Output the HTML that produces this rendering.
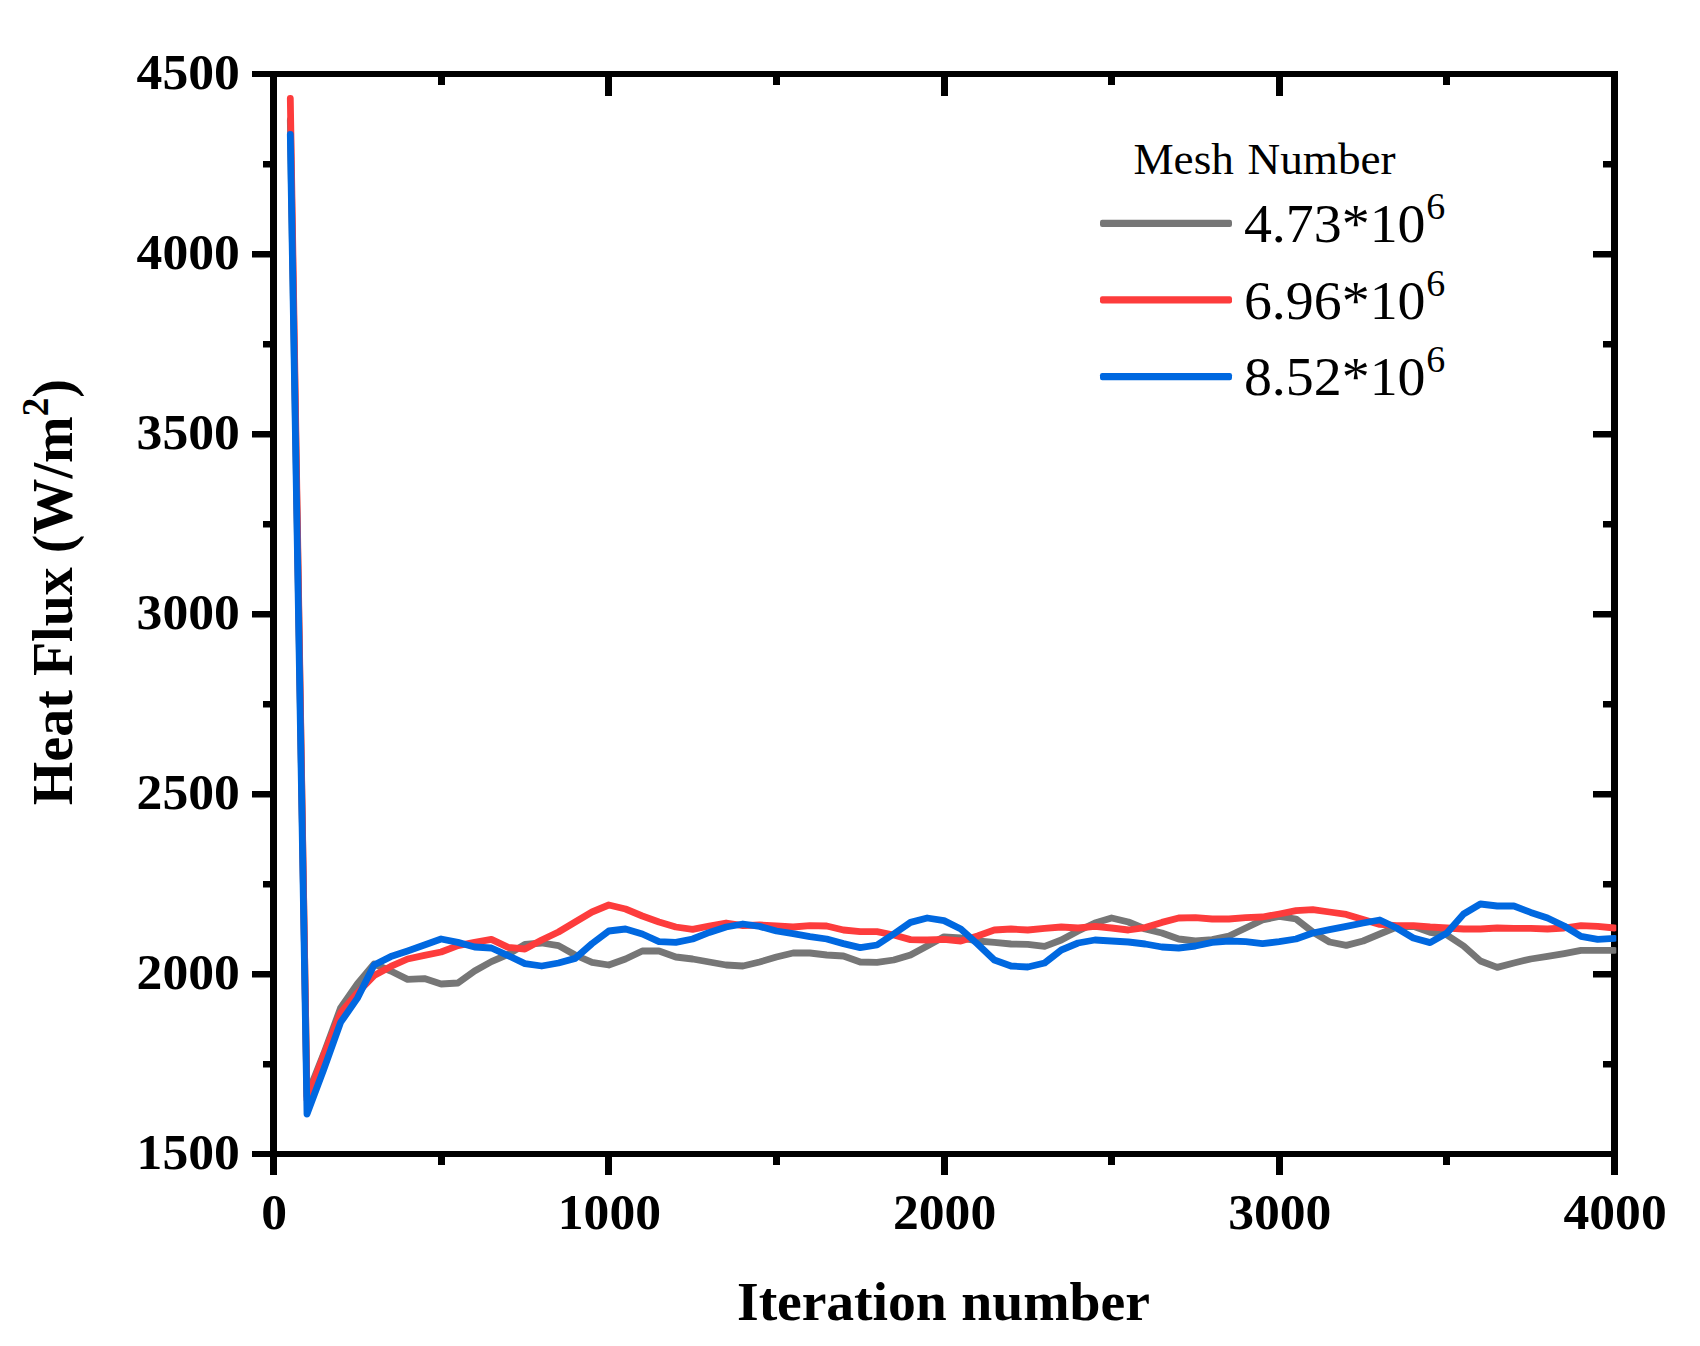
<!DOCTYPE html>
<html><head><meta charset="utf-8"><title>Heat Flux vs Iteration number</title>
<style>
html,body{margin:0;padding:0;background:#fff;}
body{width:1700px;height:1346px;overflow:hidden;}
svg{display:block;}
text{font-family:"Liberation Serif",serif;fill:#000;}
.b{font-weight:bold;}
</style></head><body>
<svg width="1700" height="1346" viewBox="0 0 1700 1346">
<rect width="1700" height="1346" fill="#fff"/>

<g fill="#000" shape-rendering="crispEdges">
<rect x="270" y="71" width="7" height="1086"/>
<rect x="1611" y="71" width="7" height="1086"/>
<rect x="270" y="71" width="1348" height="6"/>
<rect x="270" y="1151" width="1348" height="6"/>
<rect x="270" y="1157" width="7" height="18"/>
<rect x="438" y="1157" width="7" height="8"/>
<rect x="438" y="77" width="7" height="8"/>
<rect x="605" y="1157" width="7" height="18"/>
<rect x="605" y="77" width="7" height="18.5"/>
<rect x="773" y="1157" width="7" height="8"/>
<rect x="773" y="77" width="7" height="8"/>
<rect x="941" y="1157" width="7" height="18"/>
<rect x="941" y="77" width="7" height="18.5"/>
<rect x="1108" y="1157" width="7" height="8"/>
<rect x="1108" y="77" width="7" height="8"/>
<rect x="1276" y="1157" width="7" height="18"/>
<rect x="1276" y="77" width="7" height="18.5"/>
<rect x="1443" y="1157" width="7" height="8"/>
<rect x="1443" y="77" width="7" height="8"/>
<rect x="1611" y="1157" width="7" height="18"/>
<rect x="252" y="1151" width="18" height="6" shape-rendering="auto"/>
<rect x="263" y="1061" width="7" height="6.5" shape-rendering="auto"/>
<rect x="1603" y="1061" width="8" height="6.5" shape-rendering="auto"/>
<rect x="252" y="971" width="18" height="6.5" shape-rendering="auto"/>
<rect x="1593" y="971" width="18" height="6.5" shape-rendering="auto"/>
<rect x="263" y="881" width="7" height="6.5" shape-rendering="auto"/>
<rect x="1603" y="881" width="8" height="6.5" shape-rendering="auto"/>
<rect x="252" y="791" width="18" height="6.5" shape-rendering="auto"/>
<rect x="1593" y="791" width="18" height="6.5" shape-rendering="auto"/>
<rect x="263" y="701" width="7" height="6.5" shape-rendering="auto"/>
<rect x="1603" y="701" width="8" height="6.5" shape-rendering="auto"/>
<rect x="252" y="611" width="18" height="6.5" shape-rendering="auto"/>
<rect x="1593" y="611" width="18" height="6.5" shape-rendering="auto"/>
<rect x="263" y="521" width="7" height="6.5" shape-rendering="auto"/>
<rect x="1603" y="521" width="8" height="6.5" shape-rendering="auto"/>
<rect x="252" y="431" width="18" height="6.5" shape-rendering="auto"/>
<rect x="1593" y="431" width="18" height="6.5" shape-rendering="auto"/>
<rect x="263" y="341" width="7" height="6.5" shape-rendering="auto"/>
<rect x="1603" y="341" width="8" height="6.5" shape-rendering="auto"/>
<rect x="252" y="251" width="18" height="6.5" shape-rendering="auto"/>
<rect x="1593" y="251" width="18" height="6.5" shape-rendering="auto"/>
<rect x="263" y="161" width="7" height="6.5" shape-rendering="auto"/>
<rect x="1603" y="161" width="8" height="6.5" shape-rendering="auto"/>
<rect x="252" y="71" width="18" height="6" shape-rendering="auto"/>
</g>
<defs><clipPath id="plotclip"><rect x="0" y="0" width="1616.3" height="1346"/></clipPath></defs>
<g fill="none" stroke-width="6.8" stroke-linejoin="round" stroke-linecap="round" clip-path="url(#plotclip)">
<polyline stroke="#767676" points="290.3,120.0 307.0,1096.0 323.8,1053.6 340.6,1008.0 357.3,984.0 374.1,964.0 390.8,971.0 407.6,979.4 424.4,978.6 441.1,984.0 457.9,983.0 474.6,971.0 491.4,961.6 508.2,954.4 524.9,944.4 541.7,943.0 558.5,945.6 575.2,955.0 592.0,962.4 608.8,965.0 625.5,959.0 642.3,951.0 659.0,951.0 675.8,957.0 692.6,959.0 709.3,962.0 726.1,965.0 742.9,966.0 759.6,962.0 776.4,957.0 793.1,953.0 809.9,953.0 826.7,955.0 843.4,956.0 860.2,962.0 877.0,962.4 893.7,960.0 910.5,955.0 927.2,946.0 944.0,936.8 960.8,938.0 977.5,941.0 994.3,942.4 1011.0,944.0 1027.8,944.4 1044.6,946.4 1061.3,940.0 1078.1,931.0 1094.9,923.0 1111.6,918.0 1128.4,922.0 1145.2,929.0 1161.9,933.0 1178.7,939.0 1195.4,941.0 1212.2,939.6 1229.0,936.0 1245.7,928.0 1262.5,920.0 1279.2,916.4 1296.0,919.0 1312.8,932.0 1329.5,942.0 1346.3,945.4 1363.1,941.0 1379.8,934.0 1396.6,927.0 1413.3,926.4 1430.1,932.3 1446.9,935.0 1463.6,946.0 1480.4,961.0 1497.2,967.4 1513.9,963.0 1530.7,959.0 1547.5,956.4 1564.2,953.6 1581.0,950.4 1597.7,950.4 1614.5,950.4"/>
<polyline stroke="#fd3c3c" points="290.3,98.4 307.0,1099.5 323.8,1054.9 340.6,1012.7 357.3,993.0 374.1,975.6 390.8,966.4 407.6,959.0 424.4,955.4 441.1,952.0 457.9,945.6 474.6,942.4 491.4,939.4 508.2,947.4 524.9,949.0 541.7,940.0 558.5,932.0 575.2,922.0 592.0,912.0 608.8,905.0 625.5,909.0 642.3,916.0 659.0,922.0 675.8,927.0 692.6,929.4 709.3,926.0 726.1,923.0 742.9,925.6 759.6,925.0 776.4,926.0 793.1,927.0 809.9,925.6 826.7,926.0 843.4,930.0 860.2,931.6 877.0,931.6 893.7,935.0 910.5,939.6 927.2,940.0 944.0,939.4 960.8,941.0 977.5,936.0 994.3,930.0 1011.0,929.0 1027.8,930.0 1044.6,928.4 1061.3,927.0 1078.1,928.0 1094.9,926.4 1111.6,928.0 1128.4,930.0 1145.2,927.6 1161.9,922.4 1178.7,918.0 1195.4,917.6 1212.2,919.0 1229.0,919.0 1245.7,917.6 1262.5,917.0 1279.2,914.0 1296.0,910.6 1312.8,909.6 1329.5,912.0 1346.3,914.4 1363.1,919.6 1379.8,924.4 1396.6,925.6 1413.3,925.6 1430.1,927.0 1446.9,928.0 1463.6,929.0 1480.4,929.0 1497.2,928.0 1513.9,928.4 1530.7,928.4 1547.5,929.0 1564.2,928.0 1581.0,925.6 1597.7,926.4 1614.5,928.0"/>
<polyline stroke="#0068e0" points="290.3,134.4 307.0,1114.0 323.8,1069.3 340.6,1022.4 357.3,998.4 374.1,965.0 390.8,956.6 407.6,951.0 424.4,945.0 441.1,939.0 457.9,942.4 474.6,947.0 491.4,948.0 508.2,955.6 524.9,963.6 541.7,966.0 558.5,963.0 575.2,958.4 592.0,943.6 608.8,931.0 625.5,929.0 642.3,934.0 659.0,941.6 675.8,942.4 692.6,939.0 709.3,932.4 726.1,927.0 742.9,924.0 759.6,926.4 776.4,931.0 793.1,933.6 809.9,936.6 826.7,939.0 843.4,943.6 860.2,947.6 877.0,945.0 893.7,934.0 910.5,922.4 927.2,918.0 944.0,920.6 960.8,929.0 977.5,944.0 994.3,960.0 1011.0,966.0 1027.8,967.0 1044.6,963.0 1061.3,950.0 1078.1,943.0 1094.9,940.0 1111.6,941.0 1128.4,942.0 1145.2,944.0 1161.9,947.0 1178.7,948.0 1195.4,946.0 1212.2,942.4 1229.0,941.0 1245.7,941.6 1262.5,943.6 1279.2,941.6 1296.0,939.0 1312.8,933.0 1329.5,929.6 1346.3,926.4 1363.1,923.0 1379.8,920.0 1396.6,928.0 1413.3,938.0 1430.1,942.6 1446.9,933.0 1463.6,914.0 1480.4,904.0 1497.2,906.0 1513.9,906.0 1530.7,912.4 1547.5,918.0 1564.2,926.0 1581.0,936.4 1597.7,939.4 1614.5,938.4"/>
</g>
<g class="b" font-size="51.6">
<text x="274.1" y="1228.8" text-anchor="middle">0</text>
<text x="609.4" y="1228.8" text-anchor="middle">1000</text>
<text x="944.6" y="1228.8" text-anchor="middle">2000</text>
<text x="1279.8" y="1228.8" text-anchor="middle">3000</text>
<text x="1615.1" y="1228.8" text-anchor="middle">4000</text>
<text x="239.8" y="1169.0" text-anchor="end">1500</text>
<text x="239.8" y="989.0" text-anchor="end">2000</text>
<text x="239.8" y="809.0" text-anchor="end">2500</text>
<text x="239.8" y="629.0" text-anchor="end">3000</text>
<text x="239.8" y="449.0" text-anchor="end">3500</text>
<text x="239.8" y="269.0" text-anchor="end">4000</text>
<text x="239.8" y="89.0" text-anchor="end">4500</text>
</g>
<text class="b" font-size="55.7" y="1319.7"><tspan x="737.1" letter-spacing="-0.1">Iteration</tspan><tspan x="946"> </tspan><tspan x="961.2">number</tspan></text>
<text class="b" font-size="56" transform="translate(71.9,592.2) rotate(-90)" text-anchor="middle">Heat Flux (W/m<tspan font-size="37" dy="-24">2</tspan><tspan dy="24">)</tspan></text>
<text font-size="45.2" x="1133.4" y="173.6" word-spacing="2.4">Mesh Number</text>
<rect x="1100" y="219.75" width="132" height="7.3" rx="2.2" fill="#767676"/>
<text font-size="55.9" x="1243.9" y="242.1">4.73*10<tspan font-size="38" dx="0.6" dy="-22.8">6</tspan></text>
<rect x="1100" y="296.25" width="132" height="7.3" rx="2.2" fill="#fd3c3c"/>
<text font-size="55.9" x="1243.9" y="319.0">6.96*10<tspan font-size="38" dx="0.6" dy="-22.8">6</tspan></text>
<rect x="1100" y="372.95" width="132" height="7.3" rx="2.2" fill="#0068e0"/>
<text font-size="55.9" x="1243.9" y="395.0">8.52*10<tspan font-size="38" dx="0.6" dy="-22.8">6</tspan></text>
</svg></body></html>
